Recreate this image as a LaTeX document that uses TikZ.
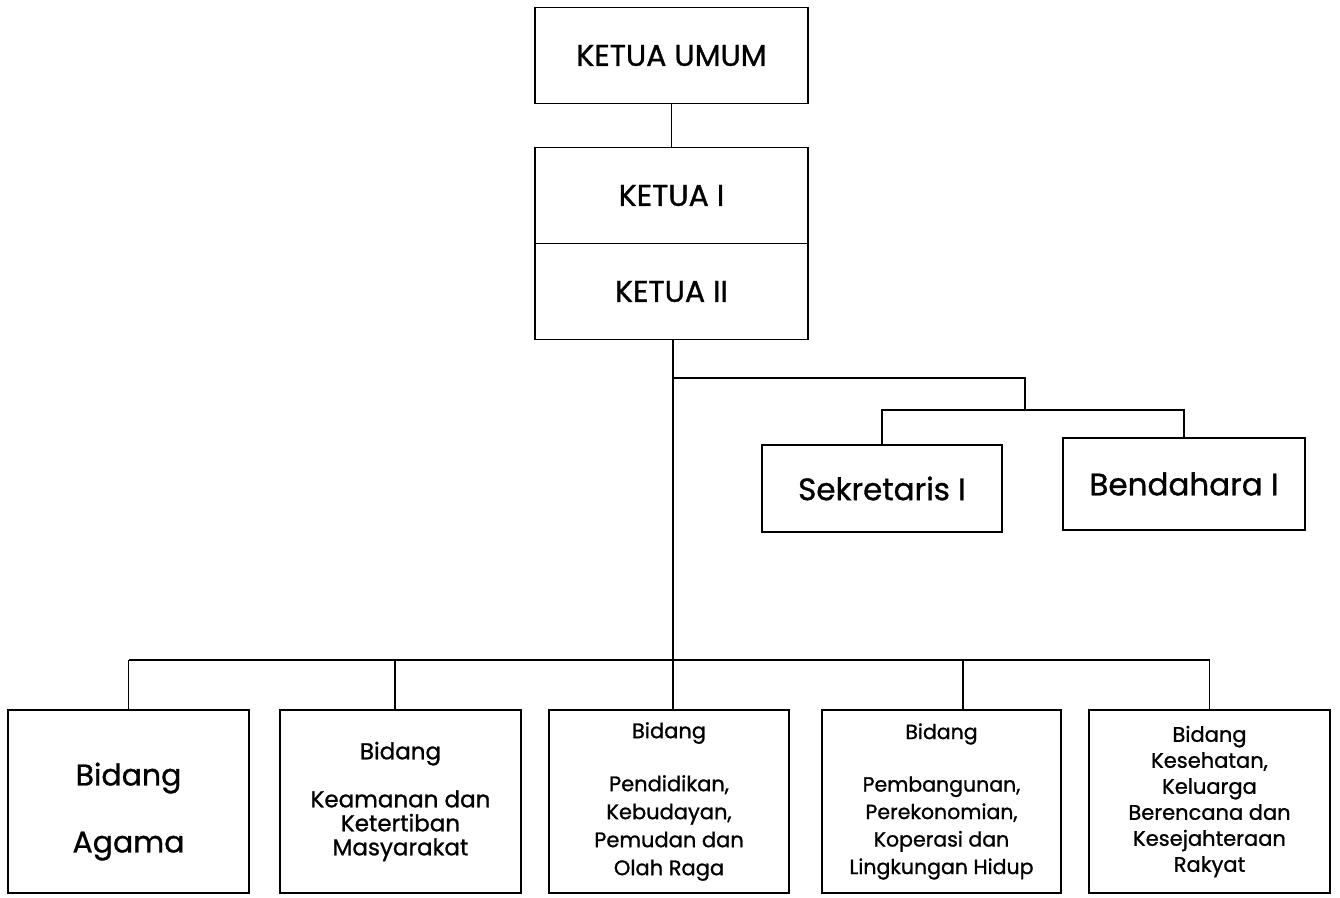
\documentclass[tikz,border=0pt]{standalone}
\usepackage{fontspec}
\setmainfont{Poppins}[FakeBold=1]
\begin{document}
\begin{tikzpicture}[x=1pt,y=-1pt,
  box/.style={draw, line width=1.8pt, inner sep=0pt, align=center},
  conn/.style={line width=1.8pt},
  big/.style={font=\fontsize{30}{34}\selectfont},
  mid/.style={font=\fontsize{31}{34}\selectfont}]
\fill[white] (0,0) rectangle (1340,897);
\useasboundingbox (0,0) rectangle (1340,897);
% top
\node[box, big, minimum width=273pt, minimum height=96pt] (ku) at (671.5,55.5) {KETUA UMUM};
\node[box, big, minimum width=273pt, minimum height=96pt] (k1) at (671.5,195.5) {KETUA I};
\node[box, big, minimum width=273pt, minimum height=96pt] (k2) at (671.5,291.5) {KETUA II};
% staff
\node[box, mid, minimum width=240pt, minimum height=87pt] (sek) at (882,488.5) {Sekretaris I};
\node[box, mid, minimum width=242pt, minimum height=92pt] (ben) at (1184,484) {Bendahara I};
% bottom row
\node[box, minimum width=241pt, minimum height=183pt, font=\fontsize{30}{67}\selectfont] (b1) at (128.5,801.5) {\rule{0pt}{43pt}Bidang\\Agama};
\node[box, minimum width=241pt, minimum height=183pt, font=\fontsize{23}{24}\selectfont] (b2) at (400.5,801.5) {Bidang\\[24pt]Keamanan dan\\Ketertiban\\Masyarakat};
\node[box, minimum width=240pt, minimum height=183pt, font=\fontsize{21}{28}\selectfont] (b3) at (669,801.5) {Bidang\\[25pt]Pendidikan,\\Kebudayan,\\Pemudan dan\\Olah Raga};
\node[box, minimum width=239pt, minimum height=183pt, font=\fontsize{20.5}{27.5}\selectfont] (b4) at (941.5,801.5) {Bidang\\[25pt]Pembangunan,\\Perekonomian,\\Koperasi dan\\Lingkungan Hidup};
\node[box, minimum width=241pt, minimum height=183pt, font=\fontsize{21}{26}\selectfont] (b5) at (1209.5,801.5) {Bidang\\Kesehatan,\\Keluarga\\Berencana dan\\Kesejahteraan\\Rakyat};
% coordinates
\coordinate (bus) at (673,660);
\coordinate (tb) at (673,378);
\coordinate (sb) at (1025,410);
\coordinate (p1) at (128.5,660);
\coordinate (p2) at (395,660);
\coordinate (p4) at (963,660);
\coordinate (p5) at (1209.5,660);
% connectors
\draw[conn] (ku.south) -- (k1.north);
\draw[conn] (k2.south -| bus) -- (bus);
\draw[conn] (tb) -| (sb);
\draw[conn] (sek.north) |- (sb) -| (ben.north);
\draw[conn] (p1) -- (p5);
\draw[conn] (p1) -- (b1.north);
\draw[conn] (p2) -- (p2 |- b2.north);
\draw[conn] (bus) -- (bus |- b3.north);
\draw[conn] (p4) -- (p4 |- b4.north);
\draw[conn] (p5) -- (b5.north);
\end{tikzpicture}
\end{document}
